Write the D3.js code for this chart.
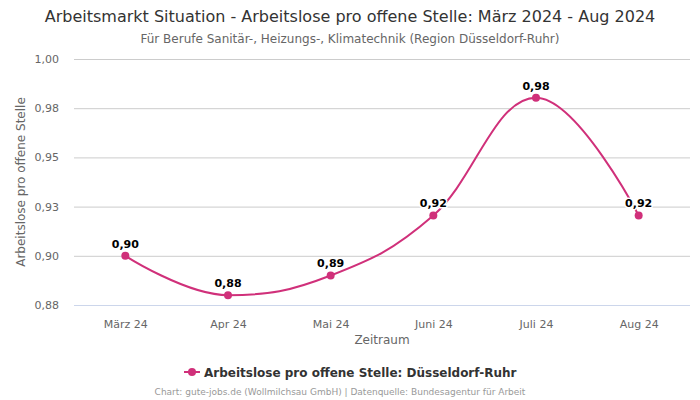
<!DOCTYPE html>
<html><head><meta charset="utf-8">
<script src="https://cdn.jsdelivr.net/npm/d3@7"></script>
<style>body{margin:0;background:#fff}svg{display:block;font-family:"DejaVu Sans",sans-serif}</style>
</head><body>
<svg id="c" width="700" height="400"></svg>
<script>
const categories = ["März 24","Apr 24","Mai 24","Juni 24","Juli 24","Aug 24"];
const values = [0.90, 0.88, 0.89, 0.9205, 0.9803, 0.9205];
const yTicks = [0.875, 0.9, 0.925, 0.95, 0.975, 1.0];
const seriesName = "Arbeitslose pro offene Stelle: Düsseldorf-Ruhr";
const color = "#d0307a";

const svg = d3.select("#c");
const L = 74, R = 690, T = 59, B = 305;
const x = d3.scalePoint().domain(categories).range([L, R]).padding(0.5);
const y = d3.scaleLinear().domain([0.875, 1.0]).range([B, T]);
const fmt = v => (Math.round(v*100 + 1e-6)/100).toFixed(2).replace(".", ",");

// title
svg.append("text").attr("x",350).attr("y",22).attr("text-anchor","middle")
  .attr("font-size",16).attr("fill","#333").text("Arbeitsmarkt Situation - Arbeitslose pro offene Stelle: März 2024 - Aug 2024");
svg.append("text").attr("x",350).attr("y",43).attr("text-anchor","middle")
  .attr("font-size",12).attr("fill","#666").text("Für Berufe Sanitär-, Heizungs-, Klimatechnik (Region Düsseldorf-Ruhr)");

// grid
const gy = svg.append("g").attr("transform",`translate(${L},0)`)
  .call(d3.axisLeft(y).tickValues(yTicks).tickSize(-(R-L)).tickFormat(fmt));
gy.select(".domain").remove();
gy.selectAll(".tick line").attr("stroke","#ccc");
gy.selectAll(".tick text").attr("x",-15).attr("font-size",11).attr("fill","#666").attr("font-family","DejaVu Sans");
gy.selectAll(".tick").filter(d=>d===0.875).select("line").attr("stroke","#ccd6eb");

// x axis
const gx = svg.append("g").attr("transform",`translate(0,${B})`)
  .call(d3.axisBottom(x).tickSize(0).tickPadding(15));
gx.select(".domain").remove();
gx.selectAll(".tick text").attr("font-size",11).attr("fill","#666").attr("font-family","DejaVu Sans");

svg.append("text").attr("x",(L+R)/2).attr("y",344).attr("text-anchor","middle")
  .attr("font-size",12).attr("fill","#666").text("Zeitraum");
svg.append("text").attr("transform",`translate(25,${(T+B)/2}) rotate(-90)`).attr("text-anchor","middle")
  .attr("font-size",12).attr("fill","#666").text("Arbeitslose pro offene Stelle");

// Highcharts-like spline
const pts = values.map((v,i)=>({x:x(categories[i]), y:y(v)}));
const p = d3.path();
const sm = 1.5, den = 2.5;
pts.forEach((pt,i)=>{
  if(i===0){p.moveTo(pt.x,pt.y);return;}
  const last = pts[i-1], next = pts[i+1];
  let lcx = pt.x, lcy = pt.y;
  if(next){
    lcx = (sm*pt.x+last.x)/den; lcy = (sm*pt.y+last.y)/den;
    let rcx = (sm*pt.x+next.x)/den, rcy = (sm*pt.y+next.y)/den;
    const corr = ((rcy-lcy)*(rcx-pt.x))/(rcx-lcx) + pt.y - rcy;
    lcy += corr; rcy += corr;
    if(lcy>last.y && lcy>pt.y){lcy=Math.max(last.y,pt.y); rcy=2*pt.y-lcy;}
    else if(lcy<last.y && lcy<pt.y){lcy=Math.min(last.y,pt.y); rcy=2*pt.y-lcy;}
    if(rcy>next.y && rcy>pt.y){rcy=Math.max(next.y,pt.y); lcy=2*pt.y-rcy;}
    else if(rcy<next.y && rcy<pt.y){rcy=Math.min(next.y,pt.y); lcy=2*pt.y-rcy;}
    pt.rcx=rcx; pt.rcy=rcy;
  }
  p.bezierCurveTo(last.rcx ?? last.x, last.rcy ?? last.y, lcx, lcy, pt.x, pt.y);
});
svg.append("path").attr("d",p.toString()).attr("fill","none").attr("stroke",color).attr("stroke-width",2);

svg.selectAll("circle.pt").data(values).join("circle").attr("class","pt")
  .attr("cx",(d,i)=>x(categories[i])).attr("cy",d=>y(d)).attr("r",4).attr("fill",color);

svg.selectAll("text.lbl").data(values).join("text").attr("class","lbl")
  .attr("x",(d,i)=>x(categories[i])).attr("y",d=>y(d)-8).attr("text-anchor","middle")
  .attr("font-size",11).attr("font-weight","bold").attr("fill","#000")
  .attr("stroke","#fff").attr("stroke-width",3).attr("paint-order","stroke").attr("stroke-linejoin","round")
  .text(fmt);

// legend
const lg = svg.append("g");
lg.append("line").attr("x1",184).attr("x2",200).attr("y1",372).attr("y2",372).attr("stroke",color).attr("stroke-width",2);
lg.append("circle").attr("cx",192).attr("cy",372).attr("r",4).attr("fill",color);
lg.append("text").attr("x",204).attr("y",377).attr("font-size",12).attr("font-weight","bold").attr("fill","#333").text(seriesName);

svg.append("text").attr("x",340).attr("y",395).attr("text-anchor","middle")
  .attr("font-size",9).attr("fill","#999").text("Chart: gute-jobs.de (Wollmilchsau GmbH) | Datenquelle: Bundesagentur für Arbeit");
</script>
</body></html>
